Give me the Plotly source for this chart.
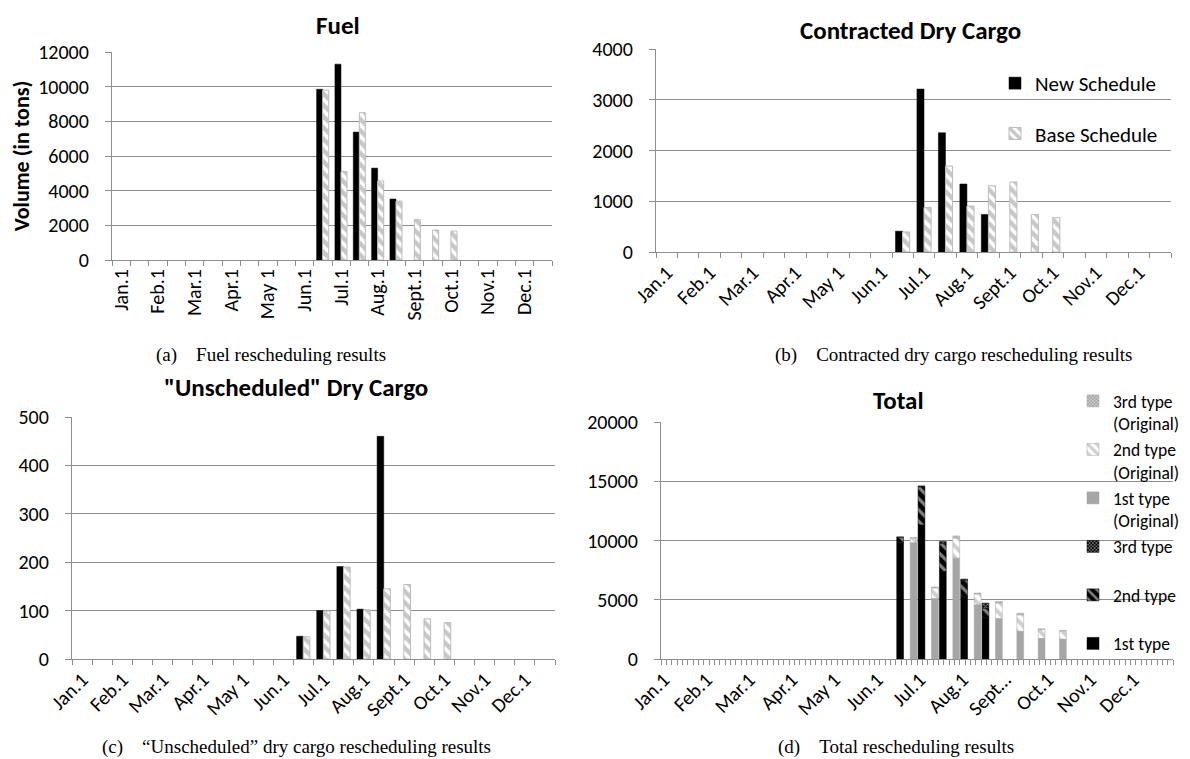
import plotly.graph_objects as go

W, H = 1190, 759

# ---------------- data ----------------
periods = ['Jan.1', 'Jan.15', 'Feb.1', 'Feb.15', 'Mar.1', 'Mar.15', 'Apr.1', 'Apr.15',
           'May 1', 'May 15', 'Jun.1', 'Jun.15', 'Jul.1', 'Jul.15', 'Aug.1', 'Aug.15',
           'Sept.1', 'Sept.15', 'Oct.1', 'Oct.15', 'Nov.1', 'Nov.15', 'Dec.1', 'Dec.15']
tick_labels = ['Jan.1', '', 'Feb.1', '', 'Mar.1', '', 'Apr.1', '', 'May 1', '', 'Jun.1', '',
               'Jul.1', '', 'Aug.1', '', 'Sept.1', '', 'Oct.1', '', 'Nov.1', '', 'Dec.1', '']
tick_labels_total = ['Jan.1', 'Feb.1', 'Mar.1', 'Apr.1', 'May 1', 'Jun.1',
                     'Jul.1', 'Aug.1', 'Sept…', 'Oct.1', 'Nov.1', 'Dec.1']

fuel_new = [None, None, None, None, None, None, None, None, None, None, None, 9850,
            11300, 7380, 5300, 3520, None, None, None, None, None, None, None, None]
fuel_base = [None, None, None, None, None, None, None, None, None, None, None, 9800,
             5100, 8500, 4560, 3400, 2330, 1730, 1670, None, None, None, None, None]
cargo_new = [None, None, None, None, None, None, None, None, None, None, None, 410,
             3210, 2350, 1340, 740, None, None, None, None, None, None, None, None]
cargo_base = [None, None, None, None, None, None, None, None, None, None, None, 395,
              880, 1695, 905, 1305, 1380, 740, 675, None, None, None, None, None]
unsch_new = [None, None, None, None, None, None, None, None, None, None, None, 47,
             100, 191, 103, 460, None, None, None, None, None, None, None, None]
unsch_base = [None, None, None, None, None, None, None, None, None, None, None, 46,
              99, 190, 102, 145, 154, 83, 75, None, None, None, None, None]

# ---------------- styles ----------------
FONT = 'Carlito, Lato, sans-serif'
SERIF = 'Liberation Serif, Times New Roman, serif'
GRID = '#8e8e8e'
TICKFONT = dict(family=FONT, size=20, color='black')


def xd(a, b):
    return [a / W, b / W]


def yd(top, bottom):
    return [1 - bottom / H, 1 - top / H]


def add(a, b):
    out = []
    for u, v in zip(a, b):
        if u is None and v is None:
            out.append(None)
        else:
            out.append((u or 0) + (v or 0))
    return out


new_style = dict(color='black', line=dict(color='black', width=0.5))
base_style = dict(color='white', line=dict(color='#bcbcbc', width=1),
                  pattern=dict(shape='\\', fgcolor='#8f8f8f', bgcolor='white', size=8, solidity=0.55))

fig = go.Figure()

panels = [
    ('x', 'y', fuel_new, fuel_base, False),
    ('x2', 'y2', cargo_new, cargo_base, True),
    ('x3', 'y3', unsch_new, unsch_base, False),
]
for xa, ya, vn, vb, leg in panels:
    fig.add_trace(go.Bar(x=periods, y=vn, xaxis=xa, yaxis=ya, name='New Schedule',
                         marker=new_style, width=0.33, offset=-0.34,
                         showlegend=leg, legend='legend', legendgroup='new'))
    fig.add_trace(go.Bar(x=periods, y=vb, xaxis=xa, yaxis=ya, name='Base Schedule',
                         marker=base_style, width=0.33, offset=-0.01,
                         showlegend=leg, legend='legend', legendgroup='base'))

# ---- total (stacked through base) on a linear axis of period indices ----
pidx = list(range(len(periods)))
base2_new = fuel_new
base3_new = add(fuel_new, cargo_new)
base2_old = fuel_base
base3_old = add(fuel_base, cargo_base)

total_traces = [  # legend order, top to bottom
    ('3rd type<br>(Original)', unsch_base, base3_old,
     dict(color='#a6a6a6', line=dict(color='#a6a6a6', width=0.5),
          pattern=dict(shape='x', fgcolor='white', bgcolor='#a6a6a6', size=3, solidity=0.5)), 0.18),
    ('2nd type<br>(Original)', cargo_base, base2_old,
     dict(color='white', line=dict(color='#a6a6a6', width=0.5),
          pattern=dict(shape='\\', fgcolor='#a0a0a0', bgcolor='white', size=8, solidity=0.5)), 0.18),
    ('1st type<br>(Original)', fuel_base, None,
     dict(color='#a6a6a6', line=dict(color='#a6a6a6', width=0.5)), 0.18),
    ('3rd type', unsch_new, base3_new,
     dict(color='black', line=dict(color='black', width=0.5),
          pattern=dict(shape='x', fgcolor='white', bgcolor='black', size=3, solidity=0.5)), -0.45),
    ('2nd type', cargo_new, base2_new,
     dict(color='black', line=dict(color='black', width=0.5),
          pattern=dict(shape='\\', fgcolor='white', bgcolor='black', size=8, solidity=0.4)), -0.45),
    ('1st type', fuel_new, None, dict(color='black', line=dict(color='black', width=0.5)), -0.45),
]
for name, vals, base, mk, off in total_traces:
    label = name if '<br>' in name else name + '<br>\u00a0'
    kw = dict(base=base) if base is not None else {}
    fig.add_trace(go.Bar(x=pidx, y=vals, xaxis='x4', yaxis='y4', name=label,
                         marker=mk, width=0.32, offset=off, legend='legend2',
                         legendgroup=name, **kw))

# ---------------- axes ----------------
def yax(domain, rng, dtick, anchor):
    return dict(domain=domain, range=rng, dtick=dtick, anchor=anchor, showgrid=True,
                gridcolor=GRID, gridwidth=1.3, showline=True, linecolor=GRID, linewidth=1.3,
                ticks='outside', ticklen=6, tickcolor=GRID, tickwidth=1.3, zeroline=False,
                tickfont=TICKFONT, tickformat='d', ticklabelstandoff=12, automargin=False)


def xax(domain, anchor, angle):
    return dict(domain=domain, anchor=anchor, type='category', categoryorder='array',
                categoryarray=periods, range=[-0.5, 23.5], tickmode='array', tickvals=periods,
                ticktext=tick_labels, tickson='boundaries', ticks='outside', ticklen=5,
                tickcolor=GRID, tickwidth=1.3, showline=True, linecolor=GRID, linewidth=1.3,
                showgrid=False, tickangle=angle, tickfont=TICKFONT, automargin=False)


fig.update_layout(
    width=W, height=H, margin=dict(l=0, r=0, t=0, b=0, autoexpand=False),
    paper_bgcolor='white', plot_bgcolor='white', barmode='overlay',
    font=dict(family=FONT, color='black'),
    xaxis=xax(xd(104, 544), 'y', -90),
    yaxis=dict(yax(yd(44, 252), [0, 12000], 2000, 'x'),
               title=dict(text='<b>Volume (in tons)</b>', standoff=4,
                          font=dict(family=FONT, size=22))),
    xaxis2=xax(xd(648, 1163), 'y2', -45),
    yaxis2=yax(yd(41, 244), [0, 4000], 1000, 'x2'),
    xaxis3=xax(xd(64, 547), 'y3', -45),
    yaxis3=yax(yd(409, 651), [0, 500], 100, 'x3'),
    xaxis4=dict(domain=xd(653, 1165), anchor='y4', type='linear', range=[-0.5, 23.5],
                tickmode='array', tickvals=[i - 0.375 for i in pidx[::2]],
                ticktext=tick_labels_total, ticks='', showline=True, linecolor=GRID,
                linewidth=1.3, showgrid=False, zeroline=False, tickangle=-45,
                tickfont=TICKFONT, automargin=False,
                minor=dict(tickmode='linear', tick0=-0.5, dtick=0.25, ticks='outside',
                           ticklen=5, tickcolor=GRID, tickwidth=1.3, showgrid=False)),
    yaxis4=yax(yd(414, 651), [0, 20000], 5000, 'x4'),
    legend=dict(x=987 / W, y=1 - 55 / H, xanchor='left', yanchor='top',
                bgcolor='rgba(0,0,0,0)', font=dict(family=FONT, size=21),
                tracegroupgap=20, itemwidth=30, traceorder='grouped'),
    legend2=dict(x=1065 / W, y=1 - 375 / H, xanchor='left', yanchor='top',
                 bgcolor='rgba(0,0,0,0)', font=dict(family=FONT, size=17.5),
                 tracegroupgap=0, itemwidth=30, traceorder='grouped', valign='top'),
)

# ---------------- titles & captions ----------------
titles = [
    ('<b>Fuel</b>', 330, 18),
    ('<b>Contracted Dry Cargo</b>', 902, 22),
    ('<b>"Unscheduled" Dry Cargo</b>', 288, 379),
    ('<b>Total</b>', 890, 392),
]
for t, x, y in titles:
    fig.add_annotation(text=t, x=x / W, y=1 - y / H, xref='paper', yref='paper',
                       showarrow=False, xanchor='center', yanchor='middle',
                       font=dict(family=FONT, size=25, color='black'))

captions = [
    ('(a)\u00a0\u00a0\u00a0\u00a0Fuel rescheduling results', 263, 347),
    ('(b)\u00a0\u00a0\u00a0\u00a0Contracted dry cargo rescheduling results', 946, 347),
    ('(c)\u00a0\u00a0\u00a0\u00a0\u201cUnscheduled\u201d dry cargo rescheduling results', 288, 739),
    ('(d)\u00a0\u00a0\u00a0\u00a0Total rescheduling results', 888, 739),
]
for t, x, y in captions:
    fig.add_annotation(text=t, x=x / W, y=1 - y / H, xref='paper', yref='paper',
                       showarrow=False, xanchor='center', yanchor='middle',
                       font=dict(family=SERIF, size=19, color='black'))

fig.write_html('out.html')
